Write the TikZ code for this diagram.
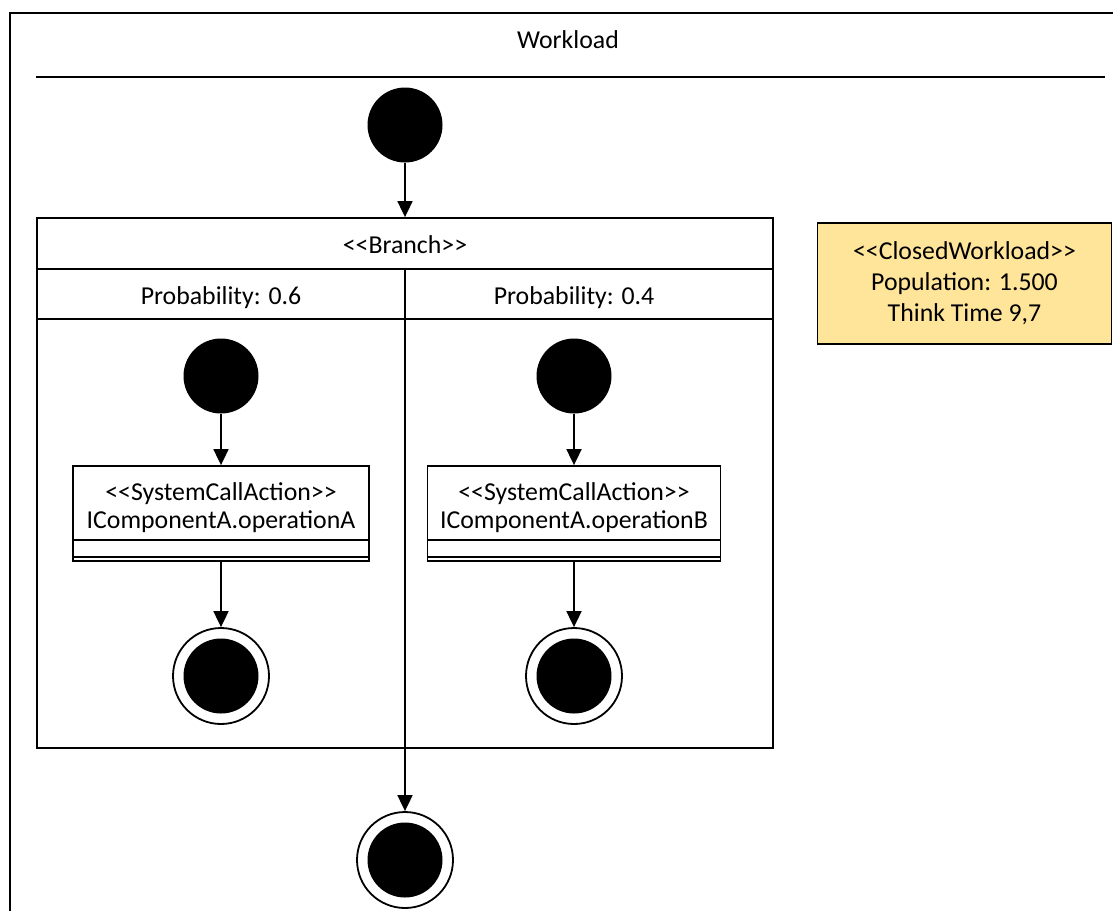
\documentclass[tikz,border=0pt]{standalone}
\usepackage{fontspec}
\setmainfont{Carlito}
\usetikzlibrary{arrows.meta}
\definecolor{notefill}{RGB}{255,229,153}
\newcommand\stereo[1]{<{}<#1>{}>}
\begin{document}
\begin{tikzpicture}[x=1pt,y=-1pt,
  every node/.style={font=\fontsize{25.8}{28}\selectfont},
  line/.style={line width=1.8pt},
  flow/.style={line width=1.8pt,-{Triangle[width=15pt,length=16pt]}},
  initnode/.style={circle,fill=black,minimum size=75pt,inner sep=0pt},
  finalring/.style={circle,draw,line width=1.8pt,fill=white,minimum size=96pt,inner sep=0pt},
  finaldot/.style={circle,fill=black,minimum size=75pt,inner sep=0pt},
  actionbox/.style={draw,line width=1.8pt,inner sep=0pt},
  notebox/.style={draw,line width=1.8pt,fill=notefill,inner sep=0pt,
    minimum width=294pt,minimum height=121pt,align=center,
    font=\fontsize{25.8}{31}\selectfont},
]
\useasboundingbox (0,0) rectangle (1113,911);

% workload frame and its title compartment
\draw[line width=2pt] (10,911) -- (10,13) -- (1113,13);
\node (title) at (568,40) {Workload};
\draw[line] (36,77) -- (1105,77);

% start of the workload
\node[initnode] (start) at (405,125) {};

% branch with its two transitions
\node[draw,line width=1.8pt,inner sep=0pt,minimum width=736pt,minimum height=530pt]
  (branch) at (405,483) {};
\node (branchlabel) at (405,245) {\stereo{Branch}};
\draw[line] (37,269) -- (773,269);
\draw[line] (37,319) -- (773,319);
\node (probA) at (221,298) {Probability: 0.6};
\node (probB) at (574,298) {Probability: 0.4};
\coordinate (divtop) at (405,269);

% left transition
\node[initnode] (startA) at (221,376) {};
\node[actionbox,minimum width=296pt,minimum height=95pt] (actA) at (221,513.5) {};
\node[align=center,inner sep=0pt] (actAtext) at (221,508) {\stereo{SystemCallAction}\\IComponentA.operationA};
\draw[line] (73,540) -- (369,540);
\draw[line] (73,557) -- (369,557);
\node[finalring] (endA) at (221,676) {};
\node[finaldot] (endAdot) at (endA) {};

% right transition
\node[initnode] (startB) at (574,376) {};
\node[actionbox,minimum width=293pt,minimum height=95pt] (actB) at (574,513.5) {};
\node[align=center,inner sep=0pt] (actBtext) at (574,508) {\stereo{SystemCallAction}\\IComponentA.operationB};
\draw[line] (427.5,540) -- (720.5,540);
\draw[line] (427.5,557) -- (720.5,557);
\node[finalring] (endB) at (574,676) {};
\node[finaldot] (endBdot) at (endB) {};

% end of the workload
\node[finalring] (stop) at (405,860) {};
\node[finaldot] (stopdot) at (stop) {};

% control flow
\draw[flow] (start) -- (branch.north);
\draw[flow] (startA) -- (actA);
\draw[flow] (actA) -- (endA);
\draw[flow] (startB) -- (actB);
\draw[flow] (actB) -- (endB);
\draw[flow] (divtop) -- (stop);

% workload specification
\node[notebox] (spec) at (964.5,283.5)
  {\stereo{ClosedWorkload}\\Population: 1.500\\Think Time 9,7};
\end{tikzpicture}
\end{document}
